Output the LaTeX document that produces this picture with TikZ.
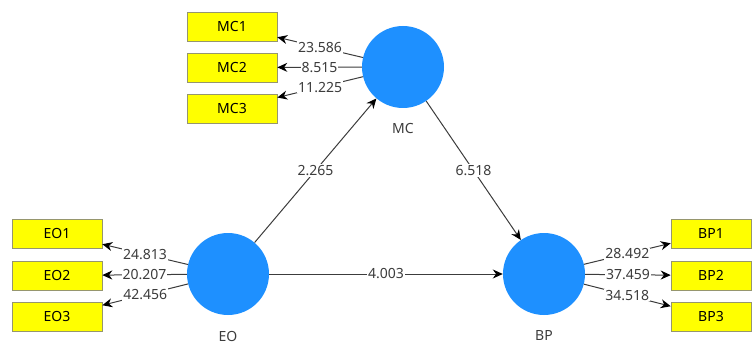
\documentclass[tikz,border=0pt]{standalone}
\usepackage{fontspec}
\setmainfont{Noto Sans}
\usetikzlibrary{arrows.meta}
\definecolor{lvblue}{RGB}{30,144,255}
\definecolor{indyellow}{RGB}{255,255,0}
\definecolor{indedge}{RGB}{150,150,110}
\definecolor{pathgray}{RGB}{60,60,60}
\tikzset{
  latent/.style={circle, fill=lvblue, draw=none, minimum size=82pt, inner sep=0pt},
  indicator/.style={rectangle, fill=indyellow, draw=indedge, line width=0.6pt,
    minimum width=90pt, minimum height=29pt, inner sep=0pt, font=\fontsize{14}{16}\selectfont},
  lvname/.style={font=\fontsize{14}{16}\selectfont, text=pathgray},
  conn/.style={draw=pathgray, line width=1pt, -{Stealth[length=10pt,width=9pt,color=black]}},
  val/.style={fill=white, inner sep=1pt, text=pathgray, font=\fontsize{14}{16}\selectfont}
}
\begin{document}
\begin{tikzpicture}[x=1pt, y=-1pt]
\useasboundingbox (0,0) rectangle (753,345);

% latent variables
\node[latent] (mc) at (403,67) {};
\node[latent] (eo) at (228,274) {};
\node[latent] (bp) at (544,274) {};
\node[lvname] (mcname) at (403,129) {MC};
\node[lvname] (eoname) at (228,336) {EO};
\node[lvname] (bpname) at (544,336) {BP};

% indicators
\node[indicator] (mc1) at (232,26.5) {MC1};
\node[indicator] (mc2) at (232,67.5) {MC2};
\node[indicator] (mc3) at (232,108.5) {MC3};
\node[indicator] (eo1) at (57,233.5) {EO1};
\node[indicator] (eo2) at (57,275.5) {EO2};
\node[indicator] (eo3) at (57,316.5) {EO3};
\node[indicator, minimum width=80pt] (bp1) at (711,233.5) {BP1};
\node[indicator, minimum width=80pt] (bp2) at (711,275.5) {BP2};
\node[indicator, minimum width=80pt] (bp3) at (711,316.5) {BP3};

% outer loadings
\draw[conn] (mc) -- node[val] (l1) {23.586} (mc1);
\draw[conn] (mc) -- node[val] (l2) {8.515} (mc2);
\draw[conn] (mc) -- node[val] (l3) {11.225} (mc3);
\draw[conn] (eo) -- node[val] (l4) {24.813} (eo1);
\draw[conn] (eo) -- node[val] (l5) {20.207} (eo2);
\draw[conn] (eo) -- node[val] (l6) {42.456} (eo3);
\draw[conn] (bp) -- node[val] (l7) {28.492} (bp1);
\draw[conn] (bp) -- node[val] (l8) {37.459} (bp2);
\draw[conn] (bp) -- node[val] (l9) {34.518} (bp3);

% structural paths
\draw[conn] (eo) -- node[val] (p1) {2.265} (mc);
\draw[conn] (mc) -- node[val] (p2) {6.518} (bp);
\draw[conn] (eo) -- node[val] (p3) {4.003} (bp);
\end{tikzpicture}
\end{document}
